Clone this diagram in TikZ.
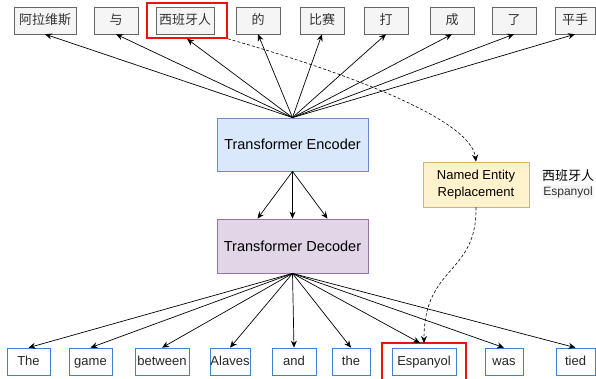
\documentclass[tikz,border=0pt]{standalone}
\usepackage{fontspec}
\setmainfont{Liberation Sans}
\newfontfamily\cjk{Noto Sans CJK SC}
\usetikzlibrary{arrows.meta}

\definecolor{tokfill}{HTML}{F5F5F5}
\definecolor{tokdraw}{HTML}{666666}
\definecolor{worddraw}{HTML}{3B82D6}
\definecolor{encfill}{HTML}{DAE8FC}
\definecolor{encdraw}{HTML}{6C8EBF}
\definecolor{decfill}{HTML}{E1D5E7}
\definecolor{decdraw}{HTML}{9673A6}
\definecolor{nerfill}{HTML}{FFF2CC}
\definecolor{nerdraw}{HTML}{D6B656}
\definecolor{hlred}{HTML}{F01010}

\tikzset{
  tok/.style={draw=tokdraw,fill=tokfill,minimum height=27pt,inner sep=0pt,
    text height=10pt,text depth=2pt,
    text=black!80,font=\cjk\fontsize{13}{15}\selectfont},
  word/.style={draw=worddraw,fill=white,minimum height=27pt,inner sep=0pt,
    text height=9.5pt,text depth=2.5pt,line width=0.7pt,
    text=black!85,font=\fontsize{13}{15}\selectfont},
  block/.style={draw,minimum width=151pt,minimum height=53pt,inner sep=0pt,line width=0.8pt,
    font=\fontsize{14.5}{17}\selectfont},
  hl/.style={draw=hlred,line width=1.6pt,inner sep=0pt},
  arr/.style={-{Stealth[length=7pt,width=6pt]},line width=0.7pt},
  dotarr/.style={arr,densely dashed,line width=0.6pt}
}

\begin{document}
\begin{tikzpicture}[x=1pt,y=-1pt]
  \useasboundingbox (0,0) rectangle (596,378);

  % source tokens
  \node[tok,minimum width=62pt] (t1) at (45,20.5) {阿拉维斯};
  \node[tok,minimum width=44pt] (t2) at (116,20.5) {与};
  \node[tok,minimum width=58pt] (t3) at (185,20.5) {西班牙人};
  \node[tok,minimum width=44pt] (t4) at (258,20.5) {的};
  \node[tok,minimum width=44pt] (t5) at (322,20.5) {比赛};
  \node[tok,minimum width=44pt] (t6) at (386,20.5) {打};
  \node[tok,minimum width=44pt] (t7) at (452,20.5) {成};
  \node[tok,minimum width=44pt] (t8) at (514,20.5) {了};
  \node[tok,minimum width=40pt] (t9) at (575,20.5) {平手};
  \node[hl,minimum width=80pt,minimum height=35pt] (r1) at (187,20.5) {};

  % encoder / decoder
  \node[block,draw=encdraw,fill=encfill] (enc) at (292.5,144.5) {Transformer Encoder};
  \node[block,draw=decdraw,fill=decfill,minimum height=54pt] (dec) at (292.5,246) {Transformer Decoder};

  % entity replacement
  \node[draw=nerdraw,fill=nerfill,line width=0.8pt,minimum width=106pt,minimum height=45pt,
    inner sep=0pt,align=center,font=\fontsize{13}{17}\selectfont] (ner) at (476,184.5)
    {Named Entity\\Replacement};
  \node[font=\cjk\fontsize{13}{15}\selectfont,inner sep=1pt] (sideZh) at (568,176) {西班牙人};
  \node[fill=tokfill,text=black!80,font=\fontsize{12}{14}\selectfont,inner sep=1.5pt] (sideEn) at (568,192) {Espanyol};

  % target words
  \node[word,minimum width=43pt] (w1) at (28.5,361.5) {The};
  \node[word,minimum width=43pt] (w2) at (90.5,361.5) {game};
  \node[word,minimum width=54pt] (w3) at (162,361.5) {between};
  \node[word,minimum width=40pt] (w4) at (230,361.5) {Alaves};
  \node[word,minimum width=44pt] (w5) at (294,361.5) {and};
  \node[word,minimum width=38pt] (w6) at (351,361.5) {the};
  \node[word,minimum width=64pt] (w7) at (424,361.5) {Espanyol};
  \node[word,minimum width=38pt] (w8) at (504,361.5) {was};
  \node[word,minimum width=39pt] (w9) at (575.5,361.5) {tied};
  \draw[hlred,line width=1.6pt] (382,380) |- (466,343) coordinate (r2) -- (466,380);
  \coordinate (r2top) at (424,343);

  % encoder to tokens
  \draw[arr] (enc.north) -- (t1.south);
  \draw[arr] (enc.north) -- (t2.south);
  \draw[arr] (enc.north) -- (r1.south);
  \draw[arr] (enc.north) -- (t4.south);
  \draw[arr] (enc.north) -- (t5.south);
  \draw[arr] (enc.north) -- (t6.south);
  \draw[arr] (enc.north) -- (t7.south);
  \draw[arr] (enc.north) -- (t8.south);
  \draw[arr] (enc.north) -- (t9.south);

  % encoder to decoder
  \draw[arr] (enc.south) -- ([xshift=-35pt]dec.north);
  \draw[arr] (enc.south) -- (dec.north);
  \draw[arr] (enc.south) -- ([xshift=35pt]dec.north);

  % decoder to words
  \draw[arr] (dec.south) -- (w1.north);
  \draw[arr] (dec.south) -- (w2.north);
  \draw[arr] (dec.south) -- (w3.north);
  \draw[arr] (dec.south) -- (w4.north);
  \draw[arr] (dec.south) -- (w5.north);
  \draw[arr] (dec.south) -- (w6.north);
  \draw[arr] (dec.south) -- ([xshift=-4pt]r2top);
  \draw[arr] (dec.south) -- (w8.north);
  \draw[arr] (dec.south) -- (w9.north);

  % replacement path
  \draw[dotarr] (r1.south east) .. controls (320,65) and (470,115) .. (ner.north);
  \draw[dotarr] (ner.south) .. controls (477,275) and (424,265) .. (r2top);
\end{tikzpicture}
\end{document}
